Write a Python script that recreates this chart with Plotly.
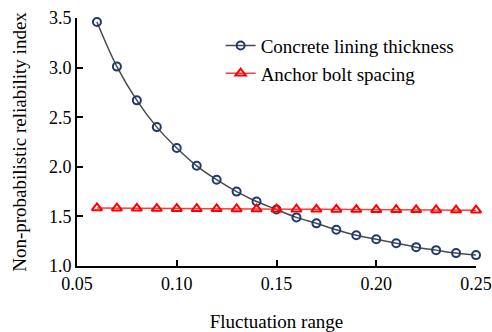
import plotly.graph_objects as go

x_vals = [0.06, 0.07, 0.08, 0.09, 0.10, 0.11, 0.12, 0.13, 0.14, 0.15,
          0.16, 0.17, 0.18, 0.19, 0.20, 0.21, 0.22, 0.23, 0.24, 0.25]
concrete = [3.46, 3.01, 2.67, 2.40, 2.19, 2.01, 1.87, 1.75, 1.65, 1.57,
            1.49, 1.43, 1.365, 1.31, 1.27, 1.23, 1.19, 1.16, 1.13, 1.11]
anchor = [1.585, 1.583, 1.581, 1.579, 1.578, 1.577, 1.576, 1.575, 1.574, 1.573,
          1.572, 1.571, 1.570, 1.569, 1.568, 1.567, 1.566, 1.565, 1.564, 1.563]
x_ticks = [0.05, 0.10, 0.15, 0.20, 0.25]
y_ticks = [1.0, 1.5, 2.0, 2.5, 3.0, 3.5]

font = "Liberation Serif, Times New Roman, serif"
fs = 18
fs_title = 19

fig = go.Figure()
fig.add_trace(go.Scatter(
    x=x_vals, y=concrete, name="Concrete lining thickness",
    mode="lines+markers", line=dict(color="#4a4a4a", width=1.5, shape="spline"),
    marker=dict(symbol="circle-open", size=8, color="#1f3a6e", line=dict(width=2, color="#1f3a6e")),
    cliponaxis=False))
fig.add_trace(go.Scatter(
    x=x_vals, y=anchor, name="Anchor bolt spacing",
    mode="lines+markers", line=dict(color="#ff3b3b", width=1.5),
    marker=dict(symbol="triangle-up-open", size=9, color="#ff0000", line=dict(width=2, color="#ff0000")),
    cliponaxis=False))

fig.update_layout(
    width=492, height=332,
    margin=dict(l=77, r=16, t=18, b=66, autoexpand=False),
    paper_bgcolor="white", plot_bgcolor="white",
    font=dict(family=font, size=fs, color="black"),
    showlegend=True,
    legend=dict(x=0.36, y=0.965, xanchor="left", yanchor="top",
                bgcolor="rgba(0,0,0,0)", font=dict(family=font, size=fs_title),
                itemwidth=30, tracegroupgap=0),
    xaxis=dict(range=[0.05, 0.25], tickvals=x_ticks, ticktext=[f"{v:.2f}" for v in x_ticks],
               showgrid=False, zeroline=False, showline=True, linecolor="black", linewidth=2,
               ticks="inside", ticklen=6, tickwidth=2, tickcolor="black", automargin=False,
               tickfont=dict(family=font, size=fs),
               title=dict(text="Fluctuation range", font=dict(family=font, size=fs_title), standoff=22)),
    yaxis=dict(range=[1.0, 3.5], tickvals=y_ticks, ticktext=[f"{v:.1f}" for v in y_ticks],
               showgrid=False, zeroline=False, showline=True, linecolor="black", linewidth=2,
               ticks="inside", ticklen=6, tickwidth=2, tickcolor="black", automargin=False,
               tickfont=dict(family=font, size=fs),
               title=dict(text="Non-probabilistic reliability index", font=dict(family=font, size=fs_title), standoff=17)),
)

fig.write_html("out.html")
